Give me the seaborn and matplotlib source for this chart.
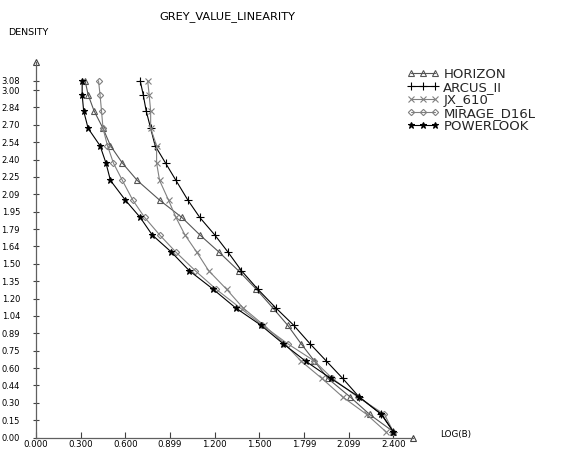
import matplotlib
matplotlib.use("Agg")
import matplotlib.pyplot as plt
import pandas as pd
import seaborn as sns

# ---- data ----
series_names = ["HORIZON", "ARCUS_II", "JX_610", "MIRAGE_D16L", "POWERLOOK"]
density = [3.08, 2.96, 2.82, 2.67, 2.52, 2.37, 2.22, 2.05, 1.90, 1.75, 1.60,
           1.44, 1.28, 1.12, 0.97, 0.81, 0.66, 0.51, 0.35, 0.20, 0.05]
horizon = [0.33, 0.35, 0.39, 0.45, 0.50, 0.58, 0.68, 0.83, 0.98, 1.10, 1.23,
           1.36, 1.48, 1.59, 1.69, 1.78, 1.87, 1.96, 2.11, 2.24, 2.40]
arcus_ii = [0.70, 0.72, 0.74, 0.77, 0.80, 0.87, 0.94, 1.02, 1.10, 1.20, 1.29,
            1.38, 1.49, 1.61, 1.73, 1.84, 1.95, 2.06, 2.17, 2.32, 2.40]
jx_610 = [0.75, 0.76, 0.77, 0.77, 0.81, 0.81, 0.83, 0.89, 0.94, 1.00, 1.08,
          1.16, 1.28, 1.39, 1.53, 1.67, 1.78, 1.92, 2.06, 2.22, 2.35]
mirage_d16l = [0.42, 0.43, 0.44, 0.45, 0.48, 0.52, 0.58, 0.65, 0.73, 0.83, 0.94,
               1.07, 1.21, 1.37, 1.52, 1.69, 1.87, 1.99, 2.16, 2.34, 2.40]
powerlook = [0.31, 0.31, 0.32, 0.35, 0.43, 0.47, 0.50, 0.60, 0.70, 0.78, 0.91,
             1.03, 1.19, 1.34, 1.51, 1.66, 1.81, 1.98, 2.17, 2.32, 2.40]

x_ticks = [0.0, 0.3, 0.6, 0.9, 1.2, 1.5, 1.8, 2.1, 2.4]
x_tick_labels = ["0.000", "0.300", "0.600", "0.899", "1.200", "1.500",
                 "1.799", "2.099", "2.400"]
y_ticks = [0.0, 0.15, 0.30, 0.45, 0.60, 0.75, 0.90, 1.05, 1.20, 1.35, 1.50,
           1.65, 1.80, 1.95, 2.10, 2.25, 2.40, 2.55, 2.70, 2.85, 3.00, 3.08]
y_tick_labels = ["0.00", "0.15", "0.30", "0.44", "0.60", "0.75", "0.89", "1.04",
                 "1.20", "1.35", "1.50", "1.64", "1.79", "1.95", "2.09", "2.25",
                 "2.40", "2.54", "2.70", "2.84", "3.00", "3.08"]

# ---- build table ----
rows = []
for name, xs in zip(series_names, [horizon, arcus_ii, jx_610, mirage_d16l, powerlook]):
    for d, v in zip(density, xs):
        rows.append({"series": name, "logB": v, "density": d})
df = pd.DataFrame(rows)

sns.set_theme(style="white")
plt.rcParams['font.family'] = ['DejaVu Sans']

W, H = 568, 449
fig = plt.figure(figsize=(W / 100, H / 100), dpi=100)
x0, x1 = 36, 412.7
y0, y1 = 437.5, 62
ax = fig.add_axes([x0 / W, (H - y0) / H, (x1 - x0) / W, (y0 - y1) / H])

palette = {"HORIZON": "#555555", "ARCUS_II": "#000000", "JX_610": "#808080",
           "MIRAGE_D16L": "#808080", "POWERLOOK": "#000000"}
markers = {"HORIZON": "^", "ARCUS_II": "+", "JX_610": "x",
           "MIRAGE_D16L": "D", "POWERLOOK": "*"}
sizes = {"HORIZON": 4.5, "ARCUS_II": 5.5, "JX_610": 4.5, "MIRAGE_D16L": 3.2, "POWERLOOK": 5}

sns.lineplot(data=df, x="logB", y="density", hue="series",
             hue_order=series_names, palette=palette, sort=False,
             estimator=None, ax=ax, linewidth=0.8, legend=False)

data_lines = list(ax.lines)
for line, name in zip(data_lines, series_names):
    c = palette[name]
    line.set_marker(markers[name])
    line.set_markerfacecolor('none' if name != "POWERLOOK" else c)
    line.set_markeredgecolor(c)
    line.set_markeredgewidth(0.8)
    line.set_markersize(sizes[name])

ax.set_xlim(0, (x1 - x0) / 148.9)
ax.set_ylim(0, (y0 - y1) / 115.8)
ax.set_xticks(x_ticks)
ax.set_xticklabels(x_tick_labels)
ax.set_yticks(y_ticks)
ax.set_yticklabels(y_tick_labels)
ax.set_xlabel("")
ax.set_ylabel("")

for s in ["top", "right"]:
    ax.spines[s].set_visible(False)
for s in ["left", "bottom"]:
    ax.spines[s].set_color("#606060")
    ax.spines[s].set_linewidth(0.9)

ax.tick_params(axis='x', direction='in', length=4, width=0.8, color="#404040",
               pad=2, labelsize=6.2, labelcolor="black")
ax.tick_params(axis='y', direction='inout', length=5, width=0.8, color="#404040",
               pad=9, labelsize=6.0, labelcolor="black")
ax.tick_params(left=True, bottom=True)

# axis arrow heads
ax.plot([1], [0], marker='^', transform=ax.transAxes, clip_on=False,
        mfc='white', mec='#404040', mew=0.8, ms=5)
ax.plot([0], [1], marker='^', transform=ax.transAxes, clip_on=False,
        mfc='white', mec='#404040', mew=0.8, ms=5)

fig.text(227 / W, 1 - 16.5 / H, "GREY_VALUE_LINEARITY", ha='center', va='center',
         fontsize=8.2, color='black')
fig.text(8 / W, 1 - 32.5 / H, "DENSITY", ha='left', va='center', fontsize=6.8,
         color='black')
fig.text(440 / W, 1 - 434.5 / H, "LOG(B)", ha='left', va='center', fontsize=6.3,
         color='black')

fig.legend(handles=data_lines, labels=series_names, loc='upper left',
           bbox_to_anchor=(407 / W, 1 - 68 / H), frameon=False, numpoints=3,
           fontsize=9.5, handlelength=2.4, handletextpad=0.35, labelspacing=0.0,
           borderpad=0, borderaxespad=0)

fig.savefig("out.png", dpi=100)
